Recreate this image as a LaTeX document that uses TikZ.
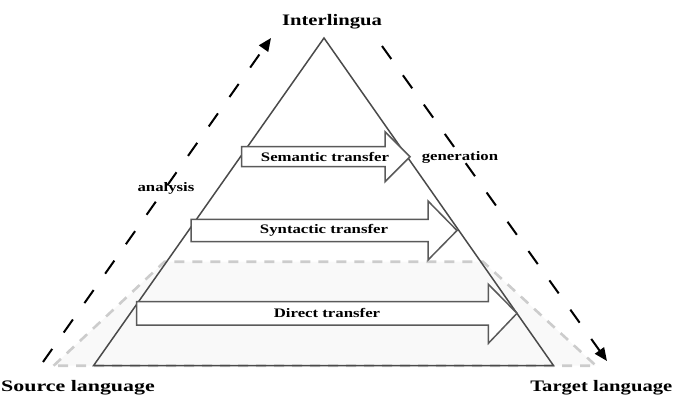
\documentclass[tikz,border=0pt]{standalone}
\usepackage{fontspec}
\setmainfont{Liberation Serif}
\usetikzlibrary{arrows.meta}
\newcommand\wtxt[1]{\scalebox{1.29}[1]{#1}}
\definecolor{triline}{HTML}{4A4A4A}
\definecolor{arrline}{HTML}{5A5A5A}
\definecolor{dashgray}{HTML}{CCCCCC}
\definecolor{zonefill}{HTML}{F9F9F9}
\tikzset{
  bigtxt/.style={font=\fontsize{16}{18}\selectfont\bfseries, inner sep=0pt},
  smalltxt/.style={font=\fontsize{13}{15}\selectfont\bfseries, inner sep=0pt},
  blockarrow/.style={draw=arrline, line width=1.5pt, fill=white, line join=miter},
  triedge/.style={draw=triline, line width=1.5pt, line join=miter},
  flowdash/.style={draw=black, line width=2pt, dash pattern=on 16pt off 20pt, -{Triangle[length=13pt,width=11pt]}},
  zone/.style={draw=dashgray, line width=2.6pt, dash pattern=on 10pt off 8pt, fill=zonefill}
}
\begin{document}
\begin{tikzpicture}[x=1pt,y=-1pt]
\useasboundingbox (0,0) rectangle (673,408);
% coordinates
\coordinate (apex) at (324,38);
\coordinate (bl) at (93.5,365.7);
\coordinate (br) at (553.6,365.7);
\coordinate (zbl) at (53.6,365.7);
\coordinate (zbr) at (596,365.7);
\coordinate (ztl) at (164.5,261.7);
\coordinate (ztr) at (483,261.7);
% direct-transfer zone
\path[zone] (zbl) -- (ztl) -- (ztr) -- (zbr) -- cycle;
% triangle
\path[triedge] (apex) -- (bl) -- (br) -- cycle;
% block arrows
\path[blockarrow] (241.5,146.7) -- (385,146.7) -- (385,131.7) -- (410,156.7) -- (385,181.7) -- (385,166.7) -- (241.5,166.7) -- cycle;
\path[blockarrow] (191,219.3) -- (428,219.3) -- (428,201) -- (457,230.5) -- (428,260) -- (428,241.7) -- (191,241.7) -- cycle;
\path[blockarrow] (136.5,301.7) -- (488.4,301.7) -- (488.4,284.3) -- (517,313.3) -- (488.4,343.3) -- (488.4,325) -- (136.5,325) -- cycle;
% labels
\node[bigtxt] (inter) at (332,22) {\wtxt{Interlingua}};
\node[bigtxt, anchor=west] (src) at (1,388) {\scalebox{1.37}[1]{Source language}};
\node[bigtxt, anchor=east] (tgt) at (672.5,388) {\wtxt{Target language}};
\node[smalltxt] (sem) at (325,157) {\wtxt{Semantic transfer}};
\node[smalltxt] (syn) at (324,230) {\wtxt{Syntactic transfer}};
\node[smalltxt] (dir) at (327,313) {\wtxt{Direct transfer}};
\node[smalltxt] (ana) at (166,188) {\wtxt{analysis}};
\node[smalltxt] (gen) at (460,157) {\wtxt{generation}};
% analysis / generation flows
\coordinate (as) at (43,362);
\coordinate (ae) at (271,38);
\coordinate (gs) at (382,46);
\coordinate (ge) at (607,361);
\draw[flowdash] (as) -- (ae);
\draw[flowdash] (gs) -- (ge);
\end{tikzpicture}
\end{document}
